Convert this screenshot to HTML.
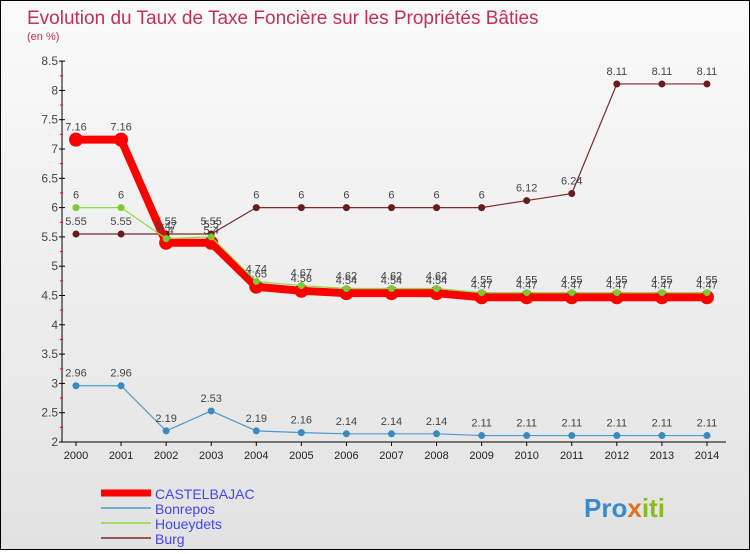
<!DOCTYPE html>
<html><head><meta charset="utf-8"><style>
body{margin:0;width:750px;height:550px;overflow:hidden;font-family:"Liberation Sans",sans-serif}
#wrap{position:relative;width:748px;height:548px;border:1px solid #000;background:linear-gradient(#fafafa,#e2e2e2)}
</style></head><body>
<div id="wrap">
<svg id="chart" width="748" height="548" xmlns="http://www.w3.org/2000/svg">
<text x="26" y="23" font-size="19" fill="#c0305a">Evolution du Taux de Taxe Foncière sur les Propriétés Bâties</text>
<text x="26" y="39" font-size="11" fill="#c0305a">(en %)</text>
<g id="axes"></g><g id="series"></g>
<g>
<line x1="100" y1="492" x2="150" y2="492" stroke="#f00" stroke-width="7"/>
<text x="154" y="498" font-size="14" fill="#4444ee">CASTELBAJAC</text>
<line x1="100" y1="507" x2="150" y2="507" stroke="#4a9ad0" stroke-width="1.5"/>
<text x="154" y="513" font-size="14" fill="#4444ee">Bonrepos</text>
<line x1="100" y1="522" x2="150" y2="522" stroke="#88dd44" stroke-width="1.5"/>
<text x="154" y="528" font-size="14" fill="#4444ee">Houeydets</text>
<line x1="100" y1="537" x2="150" y2="537" stroke="#7a2a2a" stroke-width="1.5"/>
<text x="154" y="543" font-size="14" fill="#4444ee">Burg</text>
</g>
<text x="583" y="516" font-size="26" font-weight="bold" fill="#3a8ad0">Pro<tspan fill="#e07020">x</tspan><tspan fill="#88bb22">iti</tspan></text>
</svg></div>
<script>
const years=[2000,2001,2002,2003,2004,2005,2006,2007,2008,2009,2010,2011,2012,2013,2014];
const castelbajac=[7.16,7.16,5.4,5.4,4.65,4.58,4.54,4.54,4.54,4.47,4.47,4.47,4.47,4.47,4.47];
const bonrepos=[2.96,2.96,2.19,2.53,2.19,2.16,2.14,2.14,2.14,2.11,2.11,2.11,2.11,2.11,2.11];
const houeydets=[6,6,5.47,5.5,4.74,4.67,4.62,4.62,4.62,4.55,4.55,4.55,4.55,4.55,4.55];
const burg=[5.55,5.55,5.55,5.55,6,6,6,6,6,6,6.12,6.24,8.11,8.11,8.11];
const yTicks=[2,2.5,3,3.5,4,4.5,5,5.5,6,6.5,7,7.5,8,8.5];
const NS="http://www.w3.org/2000/svg";
const X=i=>75+i*45.07, Y=v=>441-(v-2)*58.6;
function mk(t,a,p){const e=document.createElementNS(NS,t);for(const k in a)e.setAttribute(k,a[k]);p.appendChild(e);return e;}
const ax=document.getElementById('axes'), sg=document.getElementById('series');
let l=mk('line',{x1:61,y1:Y(8.5),x2:61,y2:441,stroke:'#000'},ax);

l=mk('line',{x1:61,y1:441,x2:725,y2:441,stroke:'#000'},ax);

yTicks.forEach(v=>{const y=Y(v);
 mk('line',{x1:58,y1:y,x2:64,y2:y,stroke:'#000'},ax);
 mk('line',{x1:59,y1:y+14.65,x2:62,y2:y+14.65,stroke:v>2?'#f00':'none'},ax);
 const t=mk('text',{x:57,y:y+4,'font-size':12,fill:'#444','text-anchor':'end'},ax);t.textContent=v;
 });
years.forEach((yr,i)=>{mk('line',{x1:X(i),y1:441,x2:X(i),y2:445,stroke:'#000'},ax);
 const t=mk('text',{x:X(i),y:458,'font-size':11,fill:'#222','text-anchor':'middle'},ax);t.textContent=yr;
 });
function draw(vals,name,color,w,r,dot){
 const p=mk('polyline',{points:vals.map((v,i)=>X(i)+','+Y(v)).join(' '),fill:'none',stroke:color,'stroke-width':w},sg);
 
 vals.forEach((v,i)=>{const c=mk('circle',{cx:X(i),cy:Y(v),r:r,fill:dot},sg);
  
  const t=mk('text',{x:X(i),y:Y(v)-9,'font-size':11,fill:'#444','text-anchor':'middle'},sg);t.textContent=v;
  });
}
draw(burg,'burg','#7a2a2a',1.2,3.5,'#6a1a1a');
draw(bonrepos,'bonrepos','#4a9ad0',1.2,3.5,'#3a8ac0');
draw(castelbajac,'castelbajac','#f00',8,7,'#f00');
draw(houeydets,'houeydets','#88dd44',1.2,3.5,'#77cc33');
</script>
</body></html>
